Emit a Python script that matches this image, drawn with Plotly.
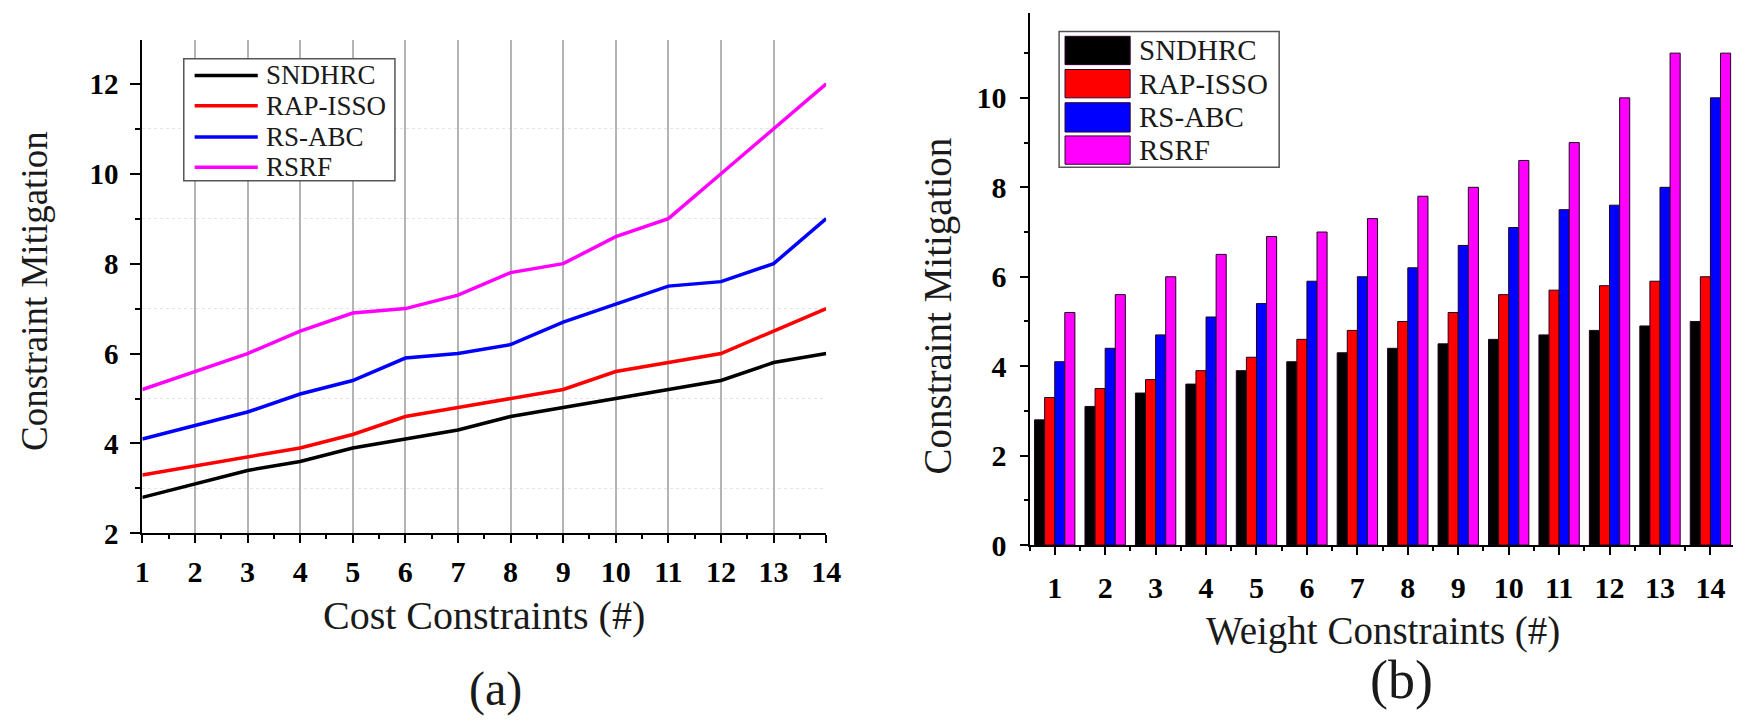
import plotly.graph_objects as go

W, H = 1750, 724

# ---------------- data ----------------
series_names = ["SNDHRC", "RAP-ISSO", "RS-ABC", "RSRF"]
series_colors = ["#000000", "#ff0000", "#0000ff", "#ff00ff"]

cost_constraints = [1, 2, 3, 4, 5, 6, 7, 8, 9, 10, 11, 12, 13, 14]
cost_sndhrc = [2.8, 3.1, 3.4, 3.6, 3.9, 4.1, 4.3, 4.6, 4.8, 5.0, 5.2, 5.4, 5.8, 6.0]
cost_rapisso = [3.3, 3.5, 3.7, 3.9, 4.2, 4.6, 4.8, 5.0, 5.2, 5.6, 5.8, 6.0, 6.5, 7.0]
cost_rsabc = [4.1, 4.4, 4.7, 5.1, 5.4, 5.9, 6.0, 6.2, 6.7, 7.1, 7.5, 7.6, 8.0, 9.0]
cost_rsrf = [5.2, 5.6, 6.0, 6.5, 6.9, 7.0, 7.3, 7.8, 8.0, 8.6, 9.0, 10.0, 11.0, 12.0]

weight_constraints = [1, 2, 3, 4, 5, 6, 7, 8, 9, 10, 11, 12, 13, 14]
weight_sndhrc = [2.8, 3.1, 3.4, 3.6, 3.9, 4.1, 4.3, 4.4, 4.5, 4.6, 4.7, 4.8, 4.9, 5.0]
weight_rapisso = [3.3, 3.5, 3.7, 3.9, 4.2, 4.6, 4.8, 5.0, 5.2, 5.6, 5.7, 5.8, 5.9, 6.0]
weight_rsabc = [4.1, 4.4, 4.7, 5.1, 5.4, 5.9, 6.0, 6.2, 6.7, 7.1, 7.5, 7.6, 8.0, 10.0]
weight_rsrf = [5.2, 5.6, 6.0, 6.5, 6.9, 7.0, 7.3, 7.8, 8.0, 8.6, 9.0, 10.0, 11.0, 11.0]

cost_series = [cost_sndhrc, cost_rapisso, cost_rsabc, cost_rsrf]
weight_series = [weight_sndhrc, weight_rapisso, weight_rsabc, weight_rsrf]

left_title_x = "Cost Constraints (#)"
right_title_x = "Weight Constraints (#)"
title_y = "Constraint Mitigation"
panel_labels = ["(a)", "(b)"]

SERIF = "Liberation Serif"


def px(x):
    return x / W


def py(y):
    return 1 - y / H


fig = go.Figure()

for name, color, vals in zip(series_names, series_colors, cost_series):
    fig.add_trace(go.Scatter(x=cost_constraints, y=vals, name=name, mode="lines",
                             line=dict(color=color, width=3.5),
                             xaxis="x", yaxis="y", showlegend=False))

for name, color, vals in zip(series_names, series_colors, weight_series):
    fig.add_trace(go.Bar(x=weight_constraints, y=vals, name=name,
                         marker=dict(color=color, line=dict(color="#200020", width=1)),
                         xaxis="x2", yaxis="y2", showlegend=False))

axis_common = dict(showline=True, linecolor="black", linewidth=2, zeroline=False,
                   ticks="outside", tickcolor="black", tickwidth=2)

fig.update_layout(
    width=W, height=H,
    margin=dict(l=0, r=0, t=0, b=0),
    paper_bgcolor="white", plot_bgcolor="white",
    barmode="group", bargap=0.2, bargroupgap=0,
    xaxis=dict(domain=[px(128), px(821)], anchor="y", range=[1, 14],
               tickmode="linear", tick0=1, dtick=1, ticklen=8, ticklabelstandoff=3,
               showgrid=True, gridcolor="#b4b4b4", gridwidth=1.5,
               minor=dict(ticks="outside", dtick=0.5, tick0=1, ticklen=4, tickwidth=2, tickcolor="black"),
               tickfont=dict(family=SERIF, size=30, color="black", weight="bold"),
               **axis_common),
    yaxis=dict(domain=[py(538), py(33)], anchor="x", range=[2, 12.97],
               tickmode="linear", tick0=2, dtick=2, ticklen=10, ticklabelstandoff=6, showgrid=False,
               minor=dict(ticks="outside", dtick=1, tick0=2, ticklen=5, tickwidth=2, tickcolor="black",
                          showgrid=True, gridcolor="#e4e4e4", gridwidth=1, griddash="dot"),
               tickfont=dict(family=SERIF, size=29, color="black", weight="bold"),
               **axis_common),
    xaxis2=dict(domain=[px(1027), px(1740)], anchor="y2", range=[0.5, 14.45],
                tickmode="linear", tick0=1, dtick=1, ticklen=8, ticklabelstandoff=7, showgrid=False,
                minor=dict(ticks="outside", dtick=0.5, tick0=1, ticklen=4, tickwidth=2, tickcolor="black"),
                tickfont=dict(family=SERIF, size=30, color="black", weight="bold"),
                **axis_common),
    yaxis2=dict(domain=[py(550), py(5)], anchor="x2", range=[0, 11.9],
                tickmode="linear", tick0=0, dtick=2, ticklen=8, ticklabelstandoff=7, showgrid=False,
                minor=dict(ticks="outside", dtick=1, tick0=0, ticklen=4, tickwidth=2, tickcolor="black"),
                tickfont=dict(family=SERIF, size=30, color="black", weight="bold"),
                **axis_common),
)

annotations = [
    dict(text=title_y, x=px(18), y=py(290), textangle=-90, font=dict(size=37)),
    dict(text=left_title_x, x=px(474), y=py(622), font=dict(size=40)),
    dict(text=panel_labels[0], x=px(486), y=py(697), font=dict(size=48)),
    dict(text=title_y, x=px(934), y=py(305), textangle=-90, font=dict(size=39)),
    dict(text=right_title_x, x=px(1385), y=py(638), font=dict(size=39)),
    dict(text=panel_labels[1], x=px(1404), y=py(688), font=dict(size=54)),
]
for a in annotations:
    a.update(xref="paper", yref="paper", showarrow=False, xanchor="center", yanchor="middle")
    a["font"].update(family=SERIF, color="#1a1a1a")

shapes = []
# left legend (lines)
shapes.append(dict(type="rect", xref="paper", yref="paper", x0=px(170), x1=px(384), y0=py(177), y1=py(52),
                   line=dict(color="#555555", width=1.5), fillcolor="white", layer="above"))
left_rows = [69, 100, 132, 163]
for name, color, ry in zip(series_names, series_colors, left_rows):
    shapes.append(dict(type="line", xref="paper", yref="paper", x0=px(181), x1=px(245), y0=py(ry), y1=py(ry),
                       line=dict(color=color, width=3.5), layer="above"))
    annotations.append(dict(text=name, x=px(251), y=py(ry), xref="paper", yref="paper", showarrow=False,
                            xanchor="left", yanchor="middle",
                            font=dict(family=SERIF, size=27, color="#1a1a1a")))
# right legend (bars)
shapes.append(dict(type="rect", xref="paper", yref="paper", x0=px(1057), x1=px(1280), y0=py(163), y1=py(24),
                   line=dict(color="#555555", width=1.5), fillcolor="white", layer="above"))
right_rows = [(29, 58), (63, 92), (97, 127), (131, 160)]
for name, color, (r0, r1) in zip(series_names, series_colors, right_rows):
    shapes.append(dict(type="rect", xref="paper", yref="paper", x0=px(1063), x1=px(1129), y0=py(r1), y1=py(r0),
                       line=dict(color="#300030", width=1), fillcolor=color, layer="above"))
    annotations.append(dict(text=name, x=px(1136), y=py((r0 + r1) / 2), xref="paper", yref="paper",
                            showarrow=False, xanchor="left", yanchor="middle",
                            font=dict(family=SERIF, size=29, color="#1a1a1a")))

fig.update_layout(annotations=annotations, shapes=shapes)

fig.write_html("out.html")
